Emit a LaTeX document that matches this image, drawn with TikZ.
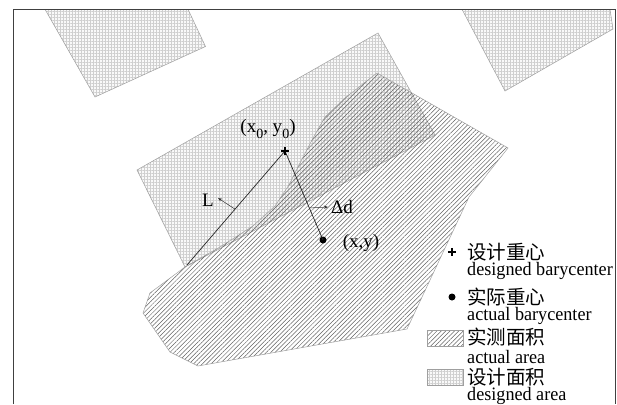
\documentclass[tikz,border=0pt]{standalone}
\usepackage{fontspec}
\setmainfont{Liberation Serif}
\newfontfamily\cjk{Noto Sans CJK SC}
\usetikzlibrary{patterns.meta,arrows.meta,calc}
\begin{document}
\begin{tikzpicture}[x=1pt,y=-1pt,
  designarea/.style={draw=gray!75, line width=0.5pt, preaction={fill=gray!5},
    pattern={Hatch[angle=0,distance=3pt,line width=0.3pt]}, pattern color=gray!38},
  actualarea/.style={draw=gray!75, line width=0.5pt,
    pattern={Lines[angle=45,distance=3.1pt,line width=0.5pt]}, pattern color=black!62},
  frameline/.style={draw=black!75, line width=1pt},
  guide/.style={draw=black!85, line width=0.7pt},
  pointer/.style={draw=black!80, line width=0.5pt, -{Stealth[length=4pt,width=3.2pt]}},
  lbl/.style={inner sep=0pt, font=\fontsize{19}{21}\selectfont},
  legtxt/.style={inner sep=0pt, anchor=west, xscale=0.955, font=\fontsize{19}{21}\selectfont},
  legcjk/.style={inner sep=0pt, anchor=west, font=\cjk\fontsize{19.5}{21}\selectfont},
  plusbox/.style={inner sep=0pt, minimum size=8pt},
  pluslines/.style={draw=black, line width=2.2pt},
  dotmark/.style={circle, fill=black, inner sep=0pt, minimum size=7pt},
]
\useasboundingbox (0,0) rectangle (617,404);
% design areas
\path[designarea] (45,9.3) -- (188,9.3) -- (205.5,46.5) -- (95,97) -- cycle;
\path[designarea] (462,9.3) -- (610,9.3) -- (613,29) -- (505,91) -- cycle;
\path[designarea] (137,170) -- (378,33) -- (435,135) -- (185,267) -- cycle;
% actual area
\path[actualarea] (377,73) -- (508,148) -- (469,197) -- (407,329) -- (198,366)
  -- (170,352) -- (143,313) -- (150,293) -- (185,267) -- (220,247) -- (253,226)
  -- (275,206) -- (289,185) -- (300,163) -- (312,140) -- (325,117) -- (345,98) -- cycle;
% frame
\draw[frameline] (13.3,404) -- (13.3,9.3) -- (615.5,9.3) -- (615.5,404);
% barycenters
\node[plusbox] (g0) at (285,151) {};
\node[dotmark] (g1) at (323,240) {};
\coordinate (lend) at (187,265);
\draw[guide] (g0.center) -- (lend);
\draw[guide] (g0.center) -- (g1.center);
\draw[pluslines] (g0.west) -- (g0.east) (g0.north) -- (g0.south);
% labels
\node[lbl] (p0lab) at (268,129) {(x\raisebox{-0.3em}{\fontsize{14}{14}\selectfont 0}, y\raisebox{-0.3em}{\fontsize{14}{14}\selectfont 0})};
\node[lbl] (plab) at (361,243) {(x,y)};
\node[lbl] (Llab) at (208,200) {L};
\node[lbl] (dlab) at (342,207) {Δd};
\coordinate (la) at ($(g0.center)!0.51!(lend)$);
\coordinate (da) at ($(g0.center)!0.64!(g1.center)$);
\draw[pointer] (la) -- ($(Llab.east)+(4,-2)$);
\draw[pointer] (da) -- ($(dlab.west)+(-3,0)$);
% legend
\node[plusbox] (k0) at (452,252) {};
\draw[pluslines] (k0.west) -- (k0.east) (k0.north) -- (k0.south);
\node[legcjk] (c1) at (467,252) {设计重心};
\node[legtxt] (t1) at (467,270.5) {designed barycenter};
\node[dotmark] (k1) at (452,297) {};
\node[legcjk] (c2) at (467,297) {实际重心};
\node[legtxt] (t2) at (467,316) {actual barycenter};
\path[actualarea] (427,330) rectangle (463,346);
\node[legcjk] (c3) at (467,337) {实测面积};
\node[legtxt] (t3) at (467,357) {actual area};
\path[designarea] (427,369) rectangle (463,385);
\node[legcjk] (c4) at (467,377) {设计面积};
\node[legtxt] (t4) at (467,396) {designed area};
\end{tikzpicture}
\end{document}
